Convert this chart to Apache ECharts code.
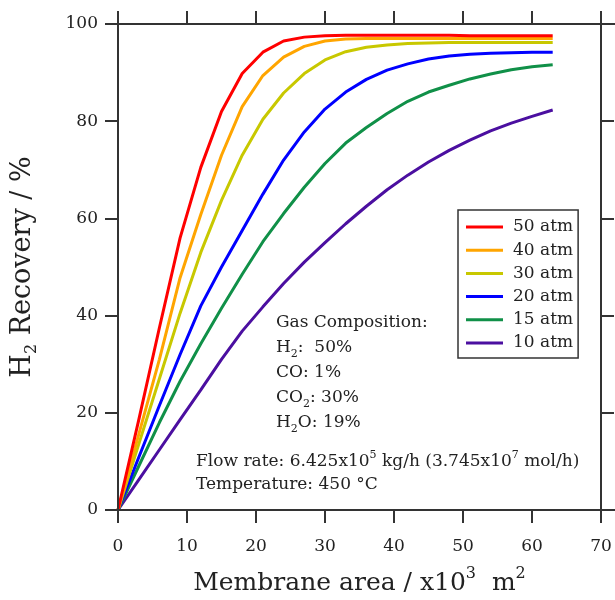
<!DOCTYPE html>
<html>
<head>
<meta charset="utf-8">
<script src="https://cdn.jsdelivr.net/npm/echarts@6/dist/echarts.min.js"></script>
<style>
html,body{margin:0;padding:0;background:#fff;}
#chart{width:615px;height:600px;}
</style>
</head>
<body>
<div id="chart"></div>
<script>
// Membrane area (x10^3 m^2)
const area = [0,3,6,9,12,15,18,21,24,27,30,33,36,39,42,45,48,51,54,57,60,63];
const seriesNames = ['50 atm','40 atm','30 atm','20 atm','15 atm','10 atm'];
const rec50 = [0,18.5,37.5,56,70.5,82,89.8,94.2,96.5,97.3,97.6,97.7,97.7,97.7,97.7,97.7,97.7,97.6,97.6,97.6,97.6,97.6];
const rec40 = [0,15.5,31,47.8,60.8,73,83,89.4,93.2,95.4,96.5,96.9,97.0,97.0,97.0,97.0,97.0,97.0,97.0,97.0,97.0,97.0];
const rec30 = [0,13.5,27,40.5,53,63.7,73,80.4,85.8,89.8,92.6,94.3,95.2,95.7,96.0,96.1,96.2,96.2,96.2,96.2,96.2,96.2];
const rec20 = [0,10.8,21.5,32,42,50,57.5,65,72,77.8,82.5,86,88.6,90.5,91.8,92.8,93.4,93.8,94.0,94.1,94.2,94.2];
const rec15 = [0,9,18,26.5,34.2,41.5,48.5,55.2,61,66.4,71.3,75.5,78.7,81.6,84.1,86,87.4,88.7,89.7,90.6,91.2,91.6];
const rec10 = [0,6.2,12.4,18.6,24.7,31,36.8,41.8,46.6,51,55,58.9,62.5,65.9,68.9,71.6,74,76.1,78,79.6,81,82.3];
const xTicks = [0,10,20,30,40,50,60,70];
const yTicks = [0,20,40,60,80,100];
const colors = ['#ff0000','#ffa500','#c8c800','#0000ff','#109048','#4b0fa0'];
const allData = [rec50,rec40,rec30,rec20,rec15,rec10];

const G = {left:118, right:14, top:24, bottom:90};
const W = 615, H = 600;
const axisColor = '#333';
const serif = '"DejaVu Serif", "Liberation Serif", serif';

const chart = echarts.init(document.getElementById('chart'), null, {renderer:'canvas'});

const series = seriesNames.map((n,i)=>({
  name:n, type:'line', xAxisIndex:0, yAxisIndex:0,
  data: area.map((a,j)=>[a, allData[i][j]]),
  symbol:'none', showSymbol:false, smooth:false,
  lineStyle:{color:colors[i], width:3},
  itemStyle:{color:colors[i]},
  z: 10 - i
}));

const tickStyle = {show:true, inside:false, length:13, lineStyle:{color:axisColor, width:2}};
const lineStyle = {show:true, onZero:false, lineStyle:{color:axisColor, width:2}};

const x0 = G.left, x1 = W - G.right, y0 = G.top, y1 = H - G.bottom;
const ext = 13;

const richTxt = {
  n:{fontFamily:serif, fontSize:17, color:'#222', lineHeight:25},
  s:{fontFamily:serif, fontSize:11, color:'#222', lineHeight:11, verticalAlign:'bottom'},
  p:{fontFamily:serif, fontSize:11, color:'#222', lineHeight:11, verticalAlign:'top'}
};

chart.setOption({
  animation:false,
  backgroundColor:'#fff',
  textStyle:{fontFamily:serif},
  grid:{left:G.left, right:G.right, top:G.top, bottom:G.bottom, containLabel:false, outerBoundsMode:'none'},
  legend:{
    orient:'vertical', left:458, top:210,
    data: seriesNames,
    icon:'rect',
    itemWidth:37, itemHeight:3, itemGap:5.2,
    padding:[8,5,6,8],
    borderColor:'#333', borderWidth:1.5,
    textStyle:{fontFamily:serif, fontSize:17, color:'#222', lineHeight:18, padding:[0,0,0,5]}
  },
  xAxis:[{
    type:'value', min:0, max:70, interval:10, position:'bottom',
    axisLine:lineStyle, axisTick:tickStyle, splitLine:{show:false},
    axisLabel:{fontFamily:serif, fontSize:17, color:'#222', margin:28},
    name:'{n|Membrane area / x10}{p|3}{n|  m}{p|2}', nameLocation:'middle', nameGap:56,
    nameTextStyle:{fontFamily:serif, fontSize:25, color:'#222', rich:{
      n:{fontFamily:serif, fontSize:25, color:'#222', lineHeight:34},
      p:{fontFamily:serif, fontSize:16, color:'#222', lineHeight:16, verticalAlign:'top'}
    }}
  },{
    type:'value', min:0, max:70, interval:10, position:'top',
    axisLine:lineStyle, axisTick:tickStyle, splitLine:{show:false},
    axisLabel:{show:false}
  }],
  yAxis:[{
    type:'value', min:0, max:100, interval:20, position:'left',
    axisLine:lineStyle, axisTick:tickStyle, splitLine:{show:false},
    axisLabel:{fontFamily:serif, fontSize:17, color:'#222', margin:20},
    name:'{n|H}{s|2}{n| Recovery / %}', nameLocation:'middle', nameGap:78,
    nameTextStyle:{fontFamily:serif, fontSize:27, color:'#222', rich:{
      n:{fontFamily:serif, fontSize:27, color:'#222', lineHeight:34},
      s:{fontFamily:serif, fontSize:16, color:'#222', lineHeight:18, verticalAlign:'bottom'}
    }}
  },{
    type:'value', min:0, max:100, interval:20, position:'right',
    axisLine:lineStyle, axisTick:tickStyle, splitLine:{show:false},
    axisLabel:{show:false}
  }],
  series: series,
  graphic:[
    {type:'line', shape:{x1:x0-ext, y1:y0, x2:W, y2:y0}, style:{stroke:axisColor, lineWidth:2}, z:50},
    {type:'line', shape:{x1:x0-ext, y1:y1, x2:W, y2:y1}, style:{stroke:axisColor, lineWidth:2}, z:50},
    {type:'line', shape:{x1:x0, y1:y0-ext, x2:x0, y2:y1}, style:{stroke:axisColor, lineWidth:2}, z:50},
    {type:'line', shape:{x1:x1, y1:y0-ext, x2:x1, y2:y1+ext}, style:{stroke:axisColor, lineWidth:2}, z:50},
    {type:'text', left:276, top:314, z:60, style:{
      text:'{n|Gas Composition:}\n{n|H}{s|2}{n|:  50%}\n{n|CO: 1%}\n{n|CO}{s|2}{n|: 30%}\n{n|H}{s|2}{n|O: 19%}',
      rich:richTxt, fill:'#222'}},
    {type:'text', left:196, top:450, z:60, style:{
      text:'{n|Flow rate: 6.425x10}{p|5}{n| kg/h (3.745x10}{p|7}{n| mol/h)}\n{n|Temperature: 450 \u00B0C}',
      rich:{
        n:{fontFamily:serif, fontSize:17, color:'#222', lineHeight:23},
        p:{fontFamily:serif, fontSize:11, color:'#222', lineHeight:11, verticalAlign:'top'}
      }, fill:'#222'}}
  ]
});
</script>
</body>
</html>
